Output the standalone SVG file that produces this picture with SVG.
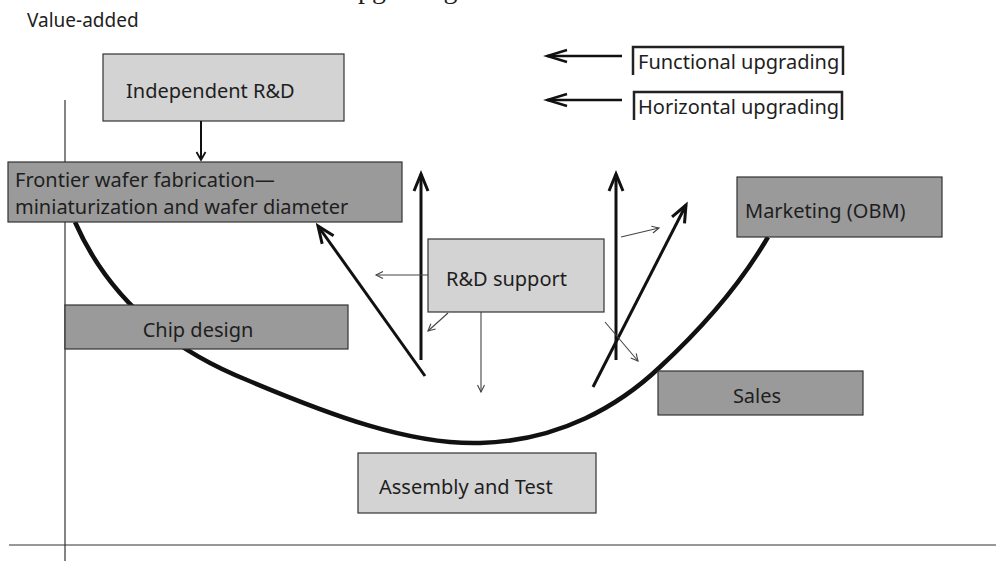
<svg xmlns="http://www.w3.org/2000/svg" width="996" height="561" viewBox="0 0 996 561">
<style>
text{font-family:"Noto Sans","Open Sans","DejaVu Sans",sans-serif;font-size:20px;fill:#1e1e1e}
.light{fill:#d3d3d3;stroke:#333;stroke-width:1.2}
.dark{fill:#9a9a9a;stroke:#333;stroke-width:1.2}
.axis{stroke:#333;stroke-width:1.2;fill:none}
.thick{stroke:#111;stroke-width:3;fill:none;marker-end:url(#hThick)}
.thin{stroke:#444;stroke-width:1.1;fill:none;marker-end:url(#hThin)}
.leg{stroke:#111;stroke-width:2.5;fill:none;marker-end:url(#hLeg)}
.legbox{stroke:#222;stroke-width:2.5;fill:none}
</style>
<defs>
<marker id="hThick" viewBox="-22 -12 26 24" refX="0" refY="0" markerWidth="26" markerHeight="24" markerUnits="userSpaceOnUse" orient="auto"><path d="M-17,-7 L0,0 L-17,7" fill="none" stroke="#111" stroke-width="3"/></marker>
<marker id="hLeg" viewBox="-24 -10 28 20" refX="0" refY="0" markerWidth="28" markerHeight="20" markerUnits="userSpaceOnUse" orient="auto"><path d="M-20,-6 L0,0 L-20,6" fill="none" stroke="#111" stroke-width="2.5"/></marker>
<marker id="hMed" viewBox="-12 -8 14 16" refX="0" refY="0" markerWidth="14" markerHeight="16" markerUnits="userSpaceOnUse" orient="auto"><path d="M-8,-4.5 L0,0 L-8,4.5" fill="none" stroke="#111" stroke-width="1.8"/></marker>
<marker id="hThin" viewBox="-10 -6 12 12" refX="0" refY="0" markerWidth="12" markerHeight="12" markerUnits="userSpaceOnUse" orient="auto"><path d="M-7,-3.5 L0,0 L-7,3.5" fill="none" stroke="#444" stroke-width="1.1"/></marker>
</defs>
<rect x="0" y="0" width="996" height="561" fill="#fff"/>
<text x="344" y="-2" style="font-family:'Liberation Serif',serif;font-size:28px">upgrading</text>
<text x="27" y="27" style="font-size:19px">Value-added</text>
<g id="axes">
<line class="axis" x1="65" y1="100" x2="65" y2="561"/>
<line class="axis" x1="9" y1="545" x2="996" y2="545"/>
</g>
<path id="curve" d="M75,222 C105,290 160,345 247,380 C330,415 410,445 480,443 C560,441 620,405 660,367 C700,330 740,285 768,237" fill="none" stroke="#111" stroke-width="4.5"/>
<g id="legend">
<path class="legbox" d="M633,75 V47 H843 V75"/>
<text x="638" y="69">Functional upgrading</text>
<path class="legbox" d="M634,120 V92 H842 V120"/>
<text x="638" y="114">Horizontal upgrading</text>
</g>
<g id="independent-rd"><rect class="light" x="103" y="54" width="241" height="67"/><text x="126" y="98">Independent R&amp;D</text></g>
<g id="frontier"><rect class="dark" x="8" y="162" width="394" height="60"/><text x="15" y="187">Frontier wafer fabrication—</text><text x="15" y="214">miniaturization and wafer diameter</text></g>
<g id="chip-design"><rect class="dark" x="65" y="305" width="283" height="44"/><text x="198" y="337" text-anchor="middle">Chip design</text></g>
<g id="rd-support"><rect class="light" x="428" y="239" width="176" height="73"/><text x="446" y="286">R&amp;D support</text></g>
<g id="marketing"><rect class="dark" x="737" y="177" width="205" height="60"/><text x="745" y="218">Marketing (OBM)</text></g>
<g id="sales"><rect class="dark" x="658" y="371" width="205" height="44"/><text x="757" y="403" text-anchor="middle">Sales</text></g>
<g id="assembly"><rect class="light" x="358" y="453" width="238" height="60"/><text x="379" y="494">Assembly and Test</text></g>
<g id="connectors">
<line class="leg" x1="622" y1="56" x2="547" y2="56"/>
<line class="leg" x1="622" y1="100" x2="547" y2="100"/>
<line x1="201" y1="121" x2="201" y2="160" stroke="#111" stroke-width="2" marker-end="url(#hMed)"/>
<line class="thick" x1="421" y1="360" x2="421" y2="174"/>
<line class="thick" x1="425" y1="376" x2="318" y2="226"/>
<line class="thick" x1="616" y1="360" x2="616" y2="174"/>
<line class="thick" x1="593" y1="387" x2="686" y2="205"/>
<line class="thin" x1="428" y1="275" x2="376" y2="275"/>
<line class="thin" x1="448" y1="313" x2="428" y2="331"/>
<line class="thin" x1="481" y1="312" x2="481" y2="392"/>
<line class="thin" x1="605" y1="322" x2="638" y2="361"/>
<line class="thin" x1="621" y1="237" x2="659" y2="228"/>
</g>
</svg>
